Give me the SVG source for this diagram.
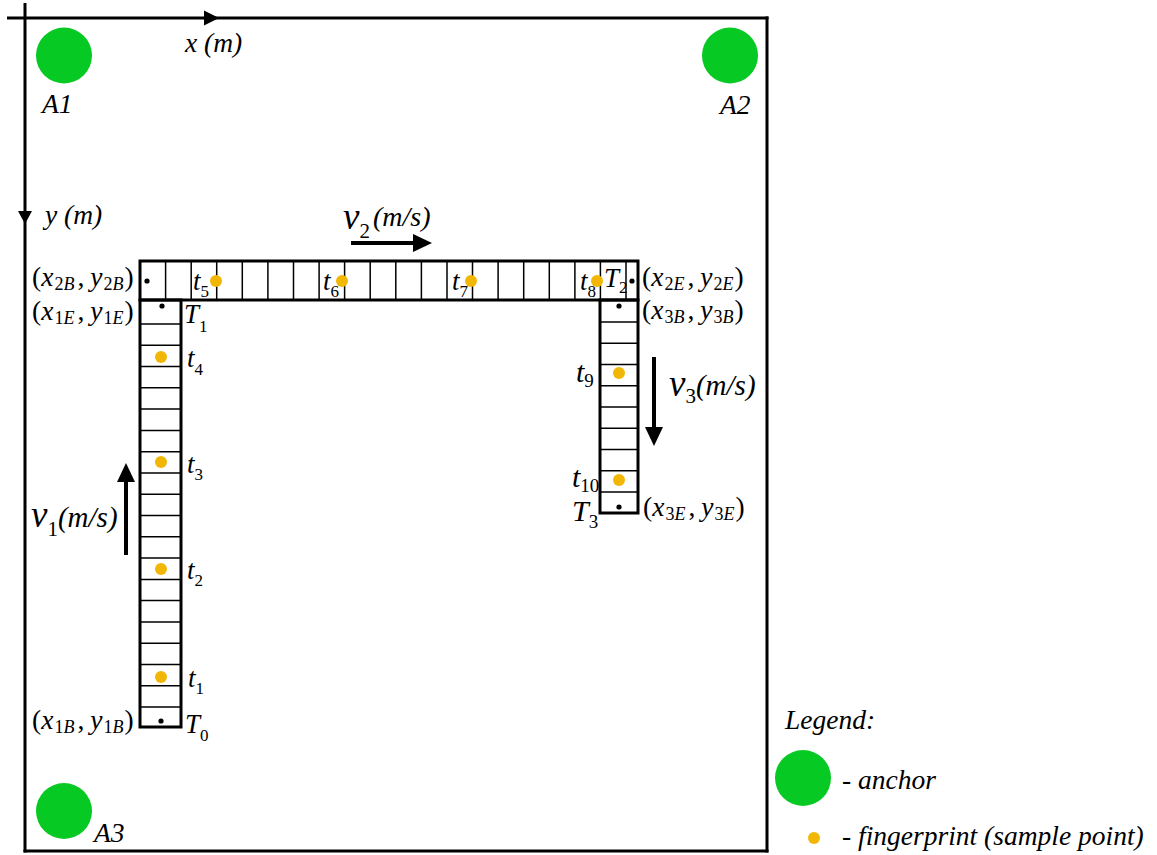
<svg xmlns="http://www.w3.org/2000/svg" width="1157" height="855" viewBox="0 0 1157 855" font-family="'Liberation Serif', 'DejaVu Serif', 'Times New Roman', Times, serif">
  <style>
    text, tspan { font-family: "Liberation Serif", "DejaVu Serif", "Times New Roman", Times, serif; fill: #000; }
    .i { font-style: italic; }
    .m { font-size: 27.5px; }
    .s { font-size: 18px; font-style: normal; }
    .si { font-size: 18px; font-style: italic; }
    .tl { font-size: 27px; font-style: italic; }
    .ts { font-size: 17px; font-style: normal; }
    .tr { font-size: 30px; font-style: italic; }
    .trs { font-size: 19px; font-style: normal; }
    .lab { font-size: 27.5px; font-style: italic; }
    .frame { stroke: #000; stroke-width: 3; fill: none; }
    .cor { stroke: #000; stroke-width: 3; fill: none; }
    .cell { stroke: #000; stroke-width: 1.5; fill: none; }
    .anchor { fill: #07C923; }
    .fp { fill: #F2B705; }
    .ep { fill: #000; }
    .vel { stroke: #000; stroke-width: 4; fill: none; marker-end: url(#head); }
  </style>
  <defs>
    <marker id="head" markerUnits="userSpaceOnUse" markerWidth="19" markerHeight="18" refX="0" refY="9" orient="auto">
      <path d="M0,0 L19,9 L0,18 Z" fill="#000"/>
    </marker>
  </defs>

  <rect width="1157" height="855" fill="#fff"/>

  <!-- room boundary and coordinate axes -->
  <g id="frame">
    <line class="frame" x1="7" y1="18" x2="768.5" y2="18"/>
    <line class="frame" x1="25" y1="3" x2="25" y2="852.5"/>
    <line class="frame" x1="767" y1="16.5" x2="767" y2="852.5"/>
    <line class="frame" x1="23.5" y1="851" x2="768.5" y2="851"/>
    <polygon points="204,10.5 219,18 204,25.5" fill="#000"/>
    <polygon points="18,211 32,211 25,224" fill="#000"/>
    <text class="lab" x="185" y="52">x (m)</text>
    <text class="lab" x="45" y="224">y (m)</text>
  </g>

  <!-- anchors -->
  <g id="anchor-A1">
    <circle class="anchor" cx="64" cy="55.5" r="28"/>
    <text class="lab" x="42" y="113">A1</text>
  </g>
  <g id="anchor-A2">
    <circle class="anchor" cx="730" cy="55.5" r="28"/>
    <text class="lab" x="720" y="114">A2</text>
  </g>
  <g id="anchor-A3">
    <circle class="anchor" cx="64" cy="811" r="28"/>
    <text class="lab" x="94" y="842">A3</text>
  </g>

  <!-- corridor 2 (horizontal) -->
  <g id="corridor-2">
    <rect class="cor" x="140" y="261" width="498" height="39"/>
    <path class="cell" d="M165.6,261V300M191.2,261V300M216.7,261V300M242.3,261V300M267.9,261V300M293.5,261V300M319.1,261V300M344.6,261V300M370.2,261V300M395.8,261V300M421.4,261V300M447,261V300M472.5,261V300M498.1,261V300M523.7,261V300M549.3,261V300M574.9,261V300M600.4,261V300M626,261V300"/>
  </g>

  <!-- corridor 1 (vertical, left) -->
  <g id="corridor-1">
    <rect class="cor" x="140" y="300" width="41" height="427"/>
    <path class="cell" d="M140,324H181M140,345.3H181M140,366.6H181M140,387.8H181M140,409.1H181M140,430.4H181M140,451.7H181M140,473H181M140,494.2H181M140,515.5H181M140,536.8H181M140,558.1H181M140,579.4H181M140,600.6H181M140,621.9H181M140,643.2H181M140,664.5H181M140,685.8H181M140,707H181"/>
  </g>

  <!-- corridor 3 (vertical, right) -->
  <g id="corridor-3">
    <rect class="cor" x="600" y="300" width="38" height="213"/>
    <path class="cell" d="M600,322H638M600,343.25H638M600,364.5H638M600,385.75H638M600,407H638M600,428.25H638M600,449.5H638M600,470.75H638M600,492H638"/>
  </g>

  <!-- corridor end points -->
  <g id="endpoints">
    <circle class="ep" cx="147" cy="281" r="2.6"/>
    <circle class="ep" cx="632" cy="281" r="2.6"/>
    <circle class="ep" cx="162" cy="306" r="2.6"/>
    <circle class="ep" cx="161" cy="721" r="2.6"/>
    <circle class="ep" cx="619" cy="306" r="2.6"/>
    <circle class="ep" cx="619" cy="507" r="2.6"/>
  </g>

  <!-- fingerprints -->
  <g id="fingerprints">
    <circle class="fp" cx="161" cy="677" r="6"/>
    <circle class="fp" cx="161" cy="569" r="6"/>
    <circle class="fp" cx="161" cy="462" r="6"/>
    <circle class="fp" cx="161" cy="357" r="6"/>
    <circle class="fp" cx="216" cy="281" r="6"/>
    <circle class="fp" cx="342" cy="281" r="6"/>
    <circle class="fp" cx="471" cy="281" r="6"/>
    <circle class="fp" cx="597" cy="281" r="6"/>
    <circle class="fp" cx="619" cy="373" r="6"/>
    <circle class="fp" cx="619" cy="480" r="6"/>
  </g>

  <!-- end point coordinates -->
  <g id="coords">
    <text class="m" x="32" y="286">(<tspan class="i">x</tspan><tspan class="s" dy="4" dx="1">2</tspan><tspan class="si">B</tspan><tspan dy="-4" dx="3">,</tspan><tspan class="i" dx="6">y</tspan><tspan class="s" dy="4" dx="1">2</tspan><tspan class="si">B</tspan><tspan dy="-4" dx="1">)</tspan></text>
    <text class="m" x="32" y="320">(<tspan class="i">x</tspan><tspan class="s" dy="4" dx="1">1</tspan><tspan class="si">E</tspan><tspan dy="-4" dx="3">,</tspan><tspan class="i" dx="6">y</tspan><tspan class="s" dy="4" dx="1">1</tspan><tspan class="si">E</tspan><tspan dy="-4" dx="1">)</tspan></text>
    <text class="m" x="642" y="286">(<tspan class="i">x</tspan><tspan class="s" dy="4" dx="1">2</tspan><tspan class="si">E</tspan><tspan dy="-4" dx="3">,</tspan><tspan class="i" dx="6">y</tspan><tspan class="s" dy="4" dx="1">2</tspan><tspan class="si">E</tspan><tspan dy="-4" dx="1">)</tspan></text>
    <text class="m" x="642" y="319">(<tspan class="i">x</tspan><tspan class="s" dy="4" dx="1">3</tspan><tspan class="si">B</tspan><tspan dy="-4" dx="3">,</tspan><tspan class="i" dx="6">y</tspan><tspan class="s" dy="4" dx="1">3</tspan><tspan class="si">B</tspan><tspan dy="-4" dx="1">)</tspan></text>
    <text class="m" x="643" y="516">(<tspan class="i">x</tspan><tspan class="s" dy="4" dx="1">3</tspan><tspan class="si">E</tspan><tspan dy="-4" dx="3">,</tspan><tspan class="i" dx="6">y</tspan><tspan class="s" dy="4" dx="1">3</tspan><tspan class="si">E</tspan><tspan dy="-4" dx="1">)</tspan></text>
    <text class="m" x="32" y="729">(<tspan class="i">x</tspan><tspan class="s" dy="4" dx="1">1</tspan><tspan class="si">B</tspan><tspan dy="-4" dx="3">,</tspan><tspan class="i" dx="6">y</tspan><tspan class="s" dy="4" dx="1">1</tspan><tspan class="si">B</tspan><tspan dy="-4" dx="1">)</tspan></text>
  </g>

  <!-- time stamps -->
  <g id="times">
    <text class="tl" x="185" y="733">T<tspan class="ts" dy="8">0</tspan></text>
    <text class="tl" x="188" y="687">t<tspan class="ts" dy="7">1</tspan></text>
    <text class="tl" x="187" y="579">t<tspan class="ts" dy="7">2</tspan></text>
    <text class="tl" x="187" y="473">t<tspan class="ts" dy="7">3</tspan></text>
    <text class="tl" x="187" y="367">t<tspan class="ts" dy="8">4</tspan></text>
    <text class="tl" x="184" y="323">T<tspan class="ts" dy="9">1</tspan></text>
    <text class="tl" x="193" y="290">t<tspan class="ts" dy="7">5</tspan></text>
    <text class="tl" x="323" y="290">t<tspan class="ts" dy="7">6</tspan></text>
    <text class="tl" x="452" y="290">t<tspan class="ts" dy="7">7</tspan></text>
    <text class="tl" x="580" y="290">t<tspan class="ts" dy="7">8</tspan></text>
    <text class="tl" x="604" y="287">T<tspan class="ts" dy="6">2</tspan></text>
    <text class="tr" x="576" y="382">t<tspan class="trs" dy="5">9</tspan></text>
    <text class="tr" x="572" y="487">t<tspan class="trs" dy="5">10</tspan></text>
    <text class="tr" x="572" y="521">T<tspan class="trs" dy="7">3</tspan></text>
  </g>

  <!-- walking directions -->
  <g id="velocities">
    <line class="vel" x1="126" y1="555" x2="126" y2="482"/>
    <line class="vel" x1="351" y1="243" x2="413" y2="243"/>
    <line class="vel" x1="654" y1="357" x2="654" y2="427"/>
    <text class="i" x="31" y="527"><tspan font-size="37">v</tspan><tspan font-size="21" font-style="normal" dy="9">1</tspan><tspan font-size="29" dy="-9">(m/s)</tspan></text>
    <text class="i" x="343" y="229"><tspan font-size="37">v</tspan><tspan font-size="21" font-style="normal" dy="9">2</tspan><tspan font-size="28" dy="-12" dx="3">(m/s)</tspan></text>
    <text class="i" x="669" y="396"><tspan font-size="37">v</tspan><tspan font-size="21" font-style="normal" dy="7">3</tspan><tspan font-size="29" dy="-8">(m/s)</tspan></text>
  </g>

  <!-- legend -->
  <g id="legend">
    <text class="lab" x="785" y="729">Legend:</text>
    <circle class="anchor" cx="803" cy="778" r="28"/>
    <text class="lab" x="842" y="789">- anchor</text>
    <circle class="fp" cx="814" cy="838" r="6"/>
    <text class="lab" x="842" y="845">- fingerprint (sample point)</text>
  </g>
</svg>
